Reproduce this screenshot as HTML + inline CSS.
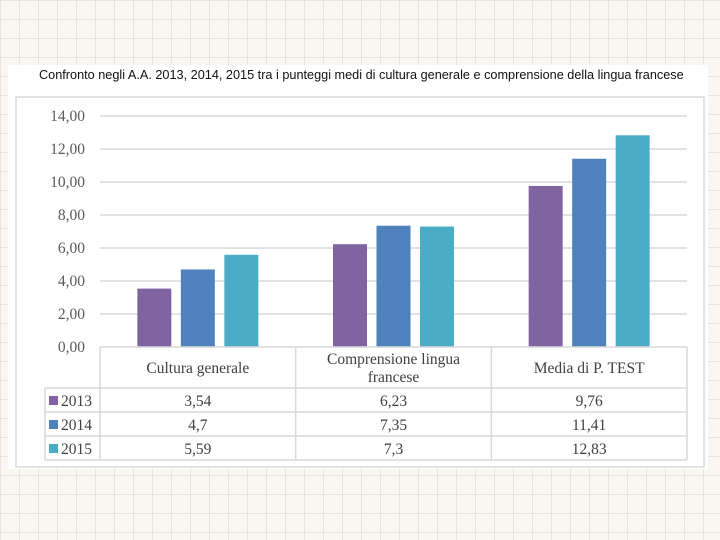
<!DOCTYPE html>
<html><head><meta charset="utf-8">
<style>
html,body{margin:0;padding:0}
body{width:720px;height:540px;overflow:hidden;position:relative;background-color:#f8f8f0;
background-image:linear-gradient(#e4e4da 1px,transparent 1px),linear-gradient(90deg,#e4e4da 1px,transparent 1px);
background-size:19px 19px;}
#panel{position:absolute;left:8px;top:65px;width:700px;height:404px;background:#fff}
#title{position:absolute;left:39px;top:68px;font:12.7px "Liberation Sans",sans-serif;color:#111;white-space:nowrap}
svg{position:absolute;left:0;top:0}
</style></head><body>
<div id="panel"></div>
<div id="title">Confronto negli A.A. 2013, 2014, 2015 tra i punteggi medi di cultura generale e comprensione della lingua francese</div>
<svg id="chart" width="720" height="540"></svg>
<script>
const categories=[["Cultura generale"],["Comprensione lingua","francese"],["Media di P. TEST"]];
const seriesNames=["2013","2014","2015"];
const s2013=[3.54,6.23,9.76];
const s2014=[4.7,7.35,11.41];
const s2015=[5.59,7.3,12.83];
const labels2013=["3,54","6,23","9,76"];
const labels2014=["4,7","7,35","11,41"];
const labels2015=["5,59","7,3","12,83"];
const yTicks=[0,2,4,6,8,10,12,14];
const colors=["#8064a2","#4f81bd","#4bacc6"];
const series=[s2013,s2014,s2015], lbls=[labels2013,labels2014,labels2015];
const NS="http://www.w3.org/2000/svg", svg=document.getElementById('chart');
const x0=100,x1=687,y0=347,yTop=116,yMax=14;
const y=v=>y0-(v/yMax)*(y0-yTop);
const cw=(x1-x0)/categories.length;
function el(t,a,txt){const e=document.createElementNS(NS,t);for(const k in a)e.setAttribute(k,a[k]);if(txt!=null)e.textContent=txt;svg.appendChild(e);return e;}
let e=el('rect',{x:16,y:97,width:688,height:370,fill:'none',stroke:'#d9d9d9','stroke-width':1.5});

const serif='"Liberation Serif",serif';
yTicks.forEach(t=>{
 if(t>0){const g=el('line',{x1:x0,x2:x1,y1:y(t),y2:y(t),stroke:'#d9d9d9','stroke-width':1.5});
 }
 const l=el('text',{x:85,y:y(t)+5,'text-anchor':'end','font-family':serif,'font-size':15.5,fill:'#595959'},t.toFixed(2).replace('.',','));
 
});
const bw=34,gap=9.5;
series.forEach((s,si)=>s.forEach((v,ci)=>{
 const cx=x0+cw*(ci+0.5)+(si-1)*(bw+gap);
 const r=el('rect',{x:cx-bw/2,y:y(v),width:bw,height:y0-y(v),fill:colors[si]});
 
}));
const rows=[347,388,412,436,460],lx=45,st='#d9d9d9';
function ln(a,b,c,d){const g=el('line',{x1:a,y1:b,x2:c,y2:d,stroke:st,'stroke-width':1.5});}
for(let i=1;i<rows.length;i++)ln(lx,rows[i],x1,rows[i]);
ln(x0,rows[0],x1,rows[0]);
ln(lx,rows[1],lx,rows[4]);
for(let c=0;c<=categories.length;c++)ln(x0+cw*c,rows[0],x0+cw*c,rows[4]);
categories.forEach((c,ci)=>{
 const cx=x0+cw*(ci+0.5);
 c.forEach((line,li)=>{const t=el('text',{x:cx,y:(c.length==1?373:364)+li*18,'text-anchor':'middle','font-family':serif,'font-size':15.5,fill:'#404040'},line);
 });
});
series.forEach((s,si)=>{
 const ry=rows[si+1]+18;
 const sw=el('rect',{x:49,y:ry-10,width:9,height:9,fill:colors[si]});
 
 const n=el('text',{x:61,y:ry,'font-family':serif,'font-size':15.5,fill:'#404040'},seriesNames[si]);
 
 s.forEach((v,ci)=>{const t=el('text',{x:x0+cw*(ci+0.5),y:ry,'text-anchor':'middle','font-family':serif,'font-size':15.5,fill:'#404040'},lbls[si][ci]);
 });
});
</script>
</body></html>
